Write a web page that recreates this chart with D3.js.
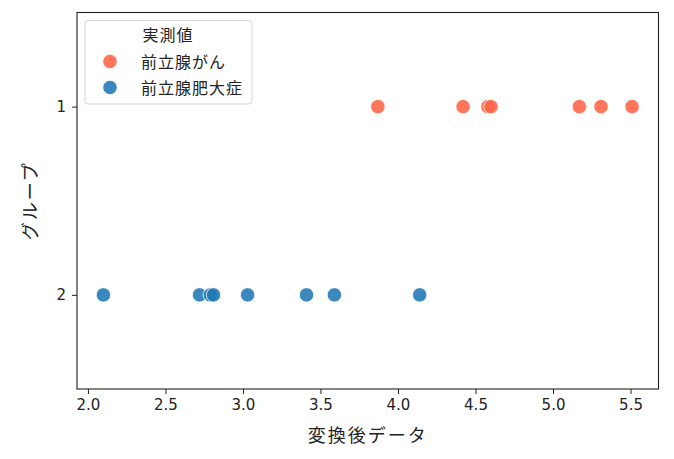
<!DOCTYPE html>
<html>
<head>
<meta charset="utf-8">
<script src="https://cdn.jsdelivr.net/npm/d3@7"></script>
<style>
  html,body{margin:0;padding:0;background:#fff;}
  svg{display:block;}
  .tick text{font-family:"DejaVu Sans",sans-serif;font-size:15px;fill:#222;}
  .jp{font-family:"Noto Sans CJK JP",sans-serif;fill:#222;}
</style>
</head>
<body>
<svg id="chart" width="674" height="459"></svg>
<script>
// ---- data ----
const groups = ['1', '2'];
const seriesNames = ['前立腺がん', '前立腺肥大症'];
const seriesColors = ['#ff6347', '#1f77b4'];
const cancerValues = [3.87, 4.42, 4.58, 4.60, 5.17, 5.31, 5.51];
const bphValues = [2.10, 2.72, 2.79, 2.81, 3.03, 3.41, 3.59, 4.14];
const xTicks = [2.0, 2.5, 3.0, 3.5, 4.0, 4.5, 5.0, 5.5];

const points = [
  ...cancerValues.map(v => ({v, g: '1', s: 0})),
  ...bphValues.map(v => ({v, g: '2', s: 1}))
];

const svg = d3.select('#chart');
const M = {l: 77, r: 674 - 658.5, t: 12.5, b: 459 - 389};
const W = 674 - M.l - M.r, H = 459 - M.t - M.b;
const g = svg.append('g').attr('transform', `translate(${M.l},${M.t})`);

const ext = d3.extent(points, d => d.v), pad = (ext[1] - ext[0]) * 0.05;
const x = d3.scaleLinear().domain([ext[0] - pad, ext[1] + pad]).range([0, W]);
const y = d3.scalePoint().domain(groups).range([0, H]).padding(0.5);

// axes
const xa = g.append('g').attr('transform', `translate(0,${H})`)
  .call(d3.axisBottom(x).tickValues(xTicks).tickFormat(d3.format('.1f')).tickSize(5).tickPadding(5));
const ya = g.append('g')
  .call(d3.axisLeft(y).tickSize(5).tickPadding(6));
[xa, ya].forEach(a => { a.select('.domain').remove(); a.selectAll('.tick line').attr('stroke', '#222'); });

g.append('rect').attr('width', W).attr('height', H)
  .attr('fill', 'none').attr('stroke', '#222').attr('stroke-width', 1.1);

// points
g.append('g').selectAll('circle').data(points).join('circle')
  .attr('cx', d => x(d.v)).attr('cy', d => y(d.g)).attr('r', 7.2)
  .attr('fill', d => seriesColors[d.s]).attr('fill-opacity', 0.88)
  .attr('stroke', '#fff').attr('stroke-width', 0.8);

// axis labels
svg.append('text').attr('class', 'jp')
  .attr('x', M.l + W / 2).attr('y', 442).attr('text-anchor', 'middle')
  .style('font-size', '18px').style('letter-spacing', '2px').text('変換後データ');
svg.append('text').attr('class', 'jp')
  .attr('transform', `translate(37,${M.t + H / 2}) rotate(-90)`).attr('text-anchor', 'middle')
  .style('font-size', '18px').style('letter-spacing', '2px').text('グループ');

// legend
const lg = svg.append('g');
lg.append('rect').attr('x', 85).attr('y', 20.5).attr('width', 167).attr('height', 83.5)
  .attr('rx', 3).attr('fill', '#fff').attr('fill-opacity', 0.8).attr('stroke', '#d6d6d6');
lg.append('text').attr('class', 'jp').attr('x', 168).attr('y', 41)
  .attr('text-anchor', 'middle').style('font-size', '16px').style('letter-spacing', '1px').text('実測値');
seriesNames.forEach((name, i) => {
  const cy = 61.5 + i * 26;
  lg.append('circle').attr('cx', 110).attr('cy', cy).attr('r', 7.2)
    .attr('fill', seriesColors[i]).attr('fill-opacity', 0.88).attr('stroke', '#fff').attr('stroke-width', 0.8);
  lg.append('text').attr('class', 'jp').attr('x', 141).attr('y', cy + 6)
    .style('font-size', '16px').style('letter-spacing', '1px').text(name);
});
</script>
</body>
</html>
